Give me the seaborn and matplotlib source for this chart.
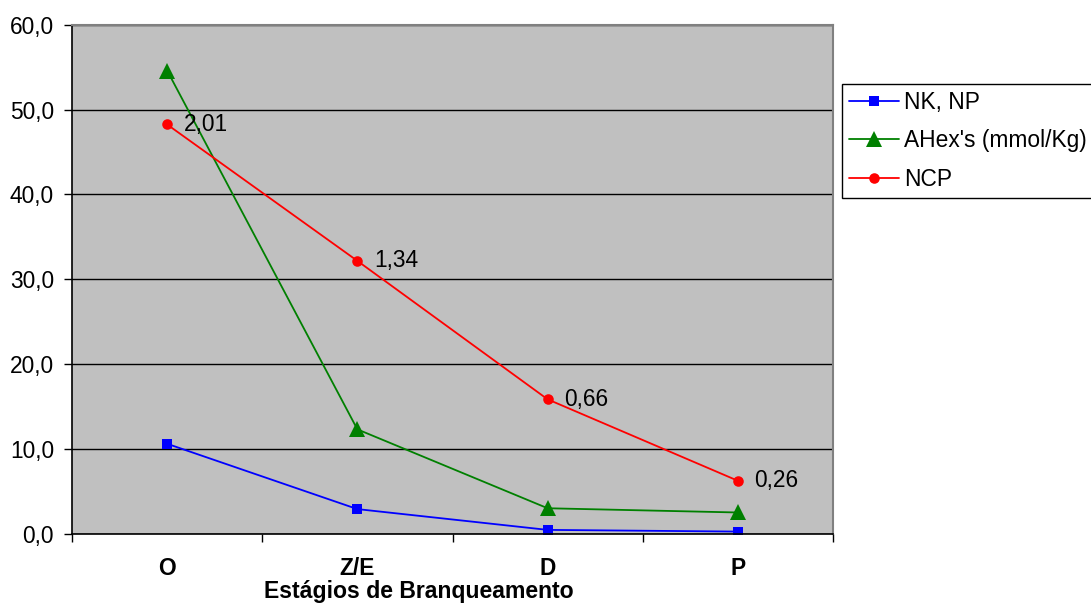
import numpy as np
import pandas as pd
import matplotlib
matplotlib.use("Agg")
import matplotlib.pyplot as plt
import seaborn as sns
from matplotlib.ticker import FuncFormatter, FixedLocator

# Bleaching stages and measured values
stages = ["O", "Z/E", "D", "P"]
nk_np = [10.6, 2.9, 0.45, 0.25]
ahex = [54.6, 12.3, 3.0, 2.5]
ncp = [2.01, 1.34, 0.66, 0.26]
ncp_scale = 24  # NCP plotted on the shared axis as NCP x 24
series_names = ["NK, NP", "AHex's (mmol/Kg)", "NCP"]
y_ticks = [0, 10, 20, 30, 40, 50, 60]

sns.set_style("white")
plt.rcParams["font.family"] = ["Liberation Sans", "DejaVu Sans"]
FS = 16.4

fig = plt.figure(figsize=(10.91, 6.09), dpi=100)
ax = fig.add_axes([72 / 1091, 1 - 533.7 / 609, (833 - 72) / 1091, (533.7 - 24.7) / 609])
ax.set_facecolor("#C0C0C0")

x = np.arange(len(stages))
ncp_plot = [v * ncp_scale for v in ncp]

styles = [
    dict(color="#0000FF", marker="s", markersize=7.2),
    dict(color="#008000", marker="^", markersize=11),
    dict(color="#FF0000", marker="o", markersize=7.6),
]
for name, vals, st in zip(series_names, [nk_np, ahex, ncp_plot], styles):
    sns.lineplot(x=x, y=vals, ax=ax, sort=False, label=name, linewidth=1.3,
                 markeredgewidth=0, **st)

# Value labels next to the NCP points
for xi, v, yv in zip(x, ncp, ncp_plot):
    ax.annotate(f"{v:.2f}".replace(".", ","), xy=(xi, yv), xytext=(12, 0),
                textcoords="offset points", ha="left", va="center",
                fontsize=FS, color="black")

ax.set_xlim(-0.5, len(stages) - 0.5)
ax.set_ylim(y_ticks[0], y_ticks[-1])

ax.yaxis.set_major_locator(FixedLocator(y_ticks))
ax.yaxis.set_major_formatter(FuncFormatter(lambda v, p: f"{v:.1f}".replace(".", ",")))
ax.grid(axis="y", color="black", linewidth=1.0)
ax.set_axisbelow(True)

ax.set_xticks(x)
ax.set_xticklabels(stages, fontweight="bold", fontsize=FS)
ax.set_xticks(np.arange(-0.5, len(stages)), minor=True)
ax.tick_params(axis="x", which="major", length=0, pad=17)
ax.tick_params(axis="x", which="minor", length=6, width=1, color="black", direction="out", bottom=True)
ax.tick_params(axis="y", which="major", length=6, width=1, color="black", direction="out",
               left=True, labelsize=FS, labelcolor="black", pad=7)
ax.tick_params(axis="x", labelcolor="black")

for side in ["left", "bottom"]:
    ax.spines[side].set_color("black")
    ax.spines[side].set_linewidth(1.2)
for side in ["top", "right"]:
    ax.spines[side].set_color("#808080")
    ax.spines[side].set_linewidth(1.5)

ax.set_xlabel("Estágios de Branqueamento", fontweight="bold", fontsize=16.6, color="black")
ax.xaxis.set_label_coords(0.456, -0.1263)
ax.xaxis.label.set_va("baseline")
ax.set_ylabel("")

handles, labels = ax.get_legend_handles_labels()
ax.get_legend().remove()
leg = fig.legend(handles, labels, loc="upper left", bbox_to_anchor=(842 / 1091, 1 - 84 / 609),
                 frameon=True, fancybox=False, edgecolor="black", framealpha=1,
                 fontsize=FS, handlelength=2.2, handletextpad=0.22, labelspacing=0.68,
                 borderpad=0.3, borderaxespad=0)
leg.get_frame().set_linewidth(1.0)
for t in leg.get_texts():
    t.set_color("black")

fig.savefig("out.png", dpi=100)
